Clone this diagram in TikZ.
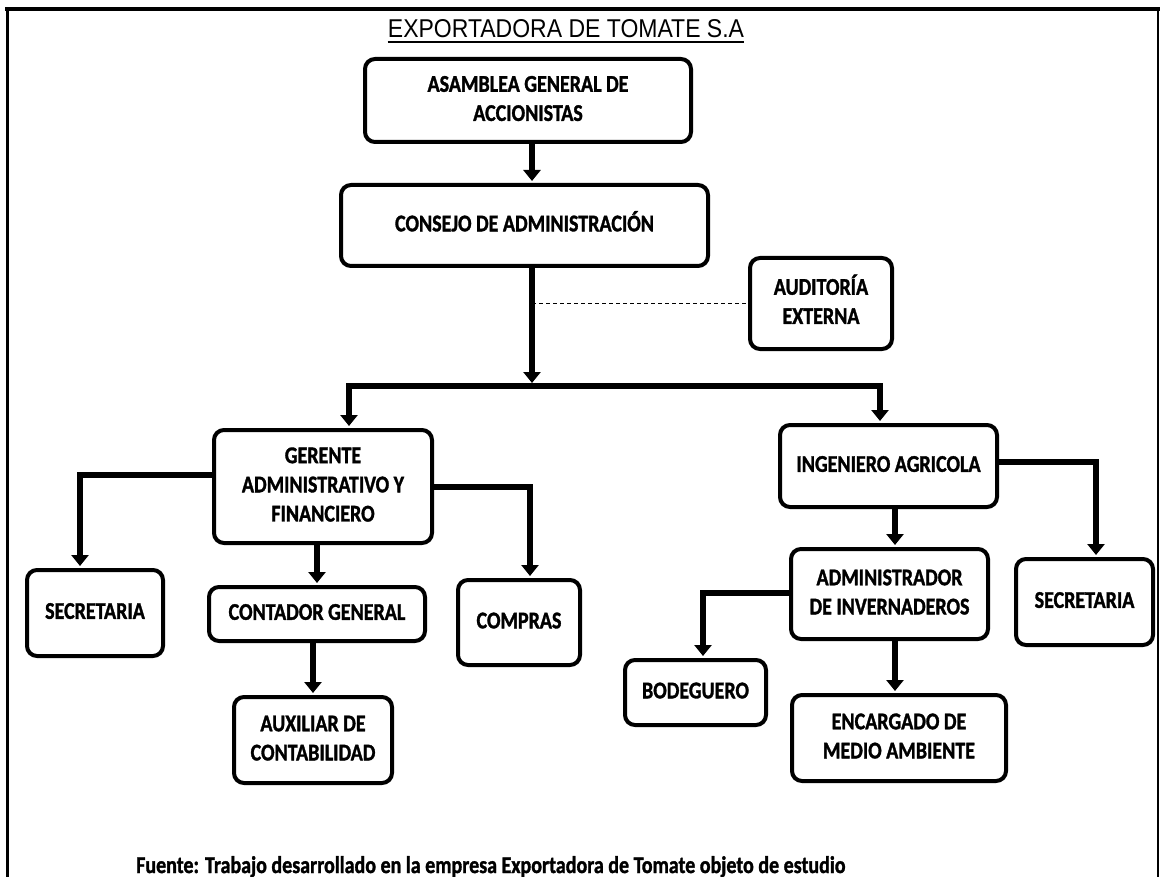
\documentclass[tikz,border=0pt]{standalone}
\usepackage{fontspec}
\setmainfont{Carlito}[BoldFeatures={FakeBold=1.5}]
\newfontfamily\titlefont{Liberation Sans}
\usetikzlibrary{arrows.meta}
\newcommand\bxt[1]{\scalebox{1}[1.2]{\begin{tabular}{@{}c@{}}#1\end{tabular}}}
\begin{document}
\begin{tikzpicture}[x=1pt,y=-1pt,
  box/.style={draw,line width=4pt,rounded corners=10pt,inner sep=0pt,
    font=\fontsize{20}{24.3}\selectfont\bfseries},
  arr/.style={line width=6pt,-{Triangle[width=17pt,length=11pt]},shorten >=2pt},
  lin/.style={line width=6pt},
  dashl/.style={line width=1pt,dash pattern=on 4pt off 3pt}]
\useasboundingbox (0,0) rectangle (1162,877);
\fill[white] (0,0) rectangle (1162,877);
% frame
\draw[line width=4pt] (5,9) -- (1160,9);
\draw[line width=3pt] (7,9) -- (7,877);
\draw[line width=1.5pt] (1158,9) -- (1158,877);
% title
\node[inner sep=0pt,anchor=base,font=\titlefont\fontsize{23}{23}\selectfont] (title) at (566,38) {\scalebox{1}[1.12]{EXPORTADORA DE TOMATE S.A}};
\draw[line width=1.3pt] ([yshift=-4pt]title.base west) -- ([yshift=-4pt]title.base east);
% boxes
\node[box,minimum width=326pt,minimum height=83pt] (asam) at (528,100.5) {\bxt{ASAMBLEA GENERAL DE\\ACCIONISTAS}};
\node[box,minimum width=367pt,minimum height=81pt] (cons) at (524.5,225.5) {\bxt{CONSEJO DE ADMINISTRACIÓN}};
\node[box,minimum width=142pt,minimum height=91pt] (audit) at (821,303.5) {\bxt{AUDITORÍA\\EXTERNA}};
\node[box,minimum width=218pt,minimum height=113pt] (ger) at (323,486.5) {\bxt{GERENTE\\ADMINISTRATIVO Y\\FINANCIERO}};
\node[box,minimum width=217pt,minimum height=82pt] (ing) at (888.5,466) {\bxt{INGENIERO AGRICOLA}};
\node[box,minimum width=136pt,minimum height=86pt] (secL) at (95,613) {\bxt{SECRETARIA}};
\node[box,minimum width=216pt,minimum height=54pt] (cont) at (317,614) {\bxt{CONTADOR GENERAL}};
\node[box,minimum width=122pt,minimum height=85pt] (comp) at (519,622.5) {\bxt{COMPRAS}};
\node[box,minimum width=158pt,minimum height=86pt] (aux) at (313,740) {\bxt{AUXILIAR DE\\CONTABILIDAD}};
\node[box,minimum width=197pt,minimum height=90pt] (adm) at (889.5,594) {\bxt{ADMINISTRADOR\\DE INVERNADEROS}};
\node[box,minimum width=137pt,minimum height=86pt] (secR) at (1084.5,602) {\bxt{SECRETARIA}};
\node[box,minimum width=141pt,minimum height=65pt] (bod) at (695.5,692.5) {\bxt{BODEGUERO}};
\node[box,minimum width=214pt,minimum height=86pt] (enc) at (899,738) {\bxt{ENCARGADO DE\\MEDIO AMBIENTE}};
% footer
\node[inner sep=0pt,anchor=base west,font=\fontsize{20}{20}\selectfont\bfseries] (src) at (136,873) {\scalebox{1}[1.2]{Fuente: Trabajo desarrollado en la empresa Exportadora de Tomate objeto de estudio}};
% bend points
\coordinate (trunk) at (532,383);
\coordinate (barL) at (349,386);
\coordinate (barR) at (880,386);
\coordinate (gL) at (80,475);
\coordinate (gR) at (530,487);
\coordinate (iR) at (1096,462);
\coordinate (aL) at (703,593);
\coordinate (ix) at (895,500);
% connectors
\draw[arr] (asam.south -| trunk) -- (cons.north -| trunk);
\draw[arr,shorten >=0pt] (cons.south -| trunk) -- (trunk);
\draw[dashl] (audit.west -| trunk) -- (audit.west);
\draw[arr] (barR) -- (barL) -- (ger.north -| barL);
\draw[arr] (barL) -- (barR) -- (ing.north -| barR);
\draw[arr] (ger.west |- gL) -- (gL) -- (secL.north -| gL);
\draw[arr] (ger.east |- gR) -- (gR) -- (comp.north -| gR);
\draw[arr] (ger.south -| cont.north) -- (cont.north);
\draw[arr] (cont.south -| aux.north) -- (aux.north);
\draw[arr] (ing.south -| ix) -- (adm.north -| ix);
\draw[arr] (adm.south -| ix) -- (enc.north -| ix);
\draw[arr] (ing.east |- iR) -- (iR) -- (secR.north -| iR);
\draw[arr] (adm.west |- aL) -- (aL) -- (bod.north -| aL);
\end{tikzpicture}
\end{document}
